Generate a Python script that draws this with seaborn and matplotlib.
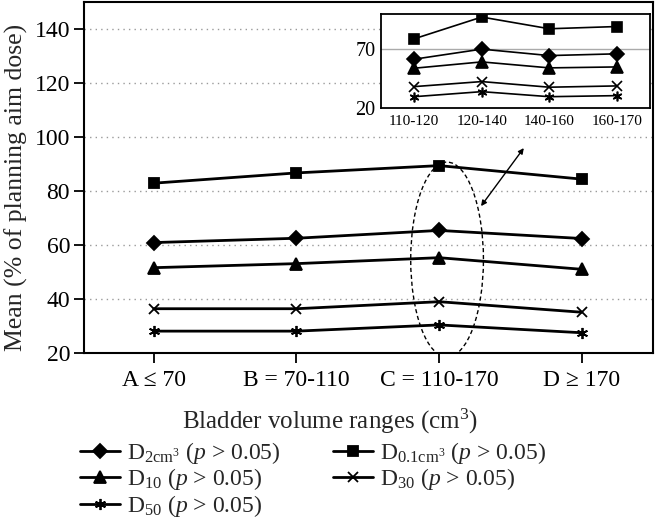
import matplotlib
matplotlib.use("Agg")
import matplotlib.pyplot as plt
from matplotlib.patches import Ellipse
from matplotlib.lines import Line2D
import seaborn as sns
import pandas as pd

# ---- data ----
categories = ["A ≤ 70", "B = 70-110", "C = 110-170", "D ≥ 170"]
d2cm3 = [60.9, 62.5, 65.4, 62.4]
d01cm3 = [82.9, 86.7, 89.4, 84.4]
d10 = [51.6, 53.1, 55.3, 51.0]
d30 = [36.4, 36.4, 39.0, 35.1]
d50 = [28.1, 28.1, 30.4, 27.5]

sub_categories = ["110-120", "120-140", "140-160", "160-170"]
sub_d2cm3 = [61.4, 70.0, 64.5, 66.0]
sub_d01cm3 = [78.8, 97.4, 87.4, 89.3]
sub_d10 = [53.7, 59.1, 54.0, 54.8]
sub_d30 = [38.0, 42.3, 37.5, 38.6]
sub_d50 = [29.4, 33.7, 29.4, 30.3]

main_yticks = [20, 40, 60, 80, 100, 120, 140]
inset_yticks = [20, 70]

labels = [r"D$_{\mathregular{2cm^3}}$ ($\mathit{p}$ > 0.05)",
          r"D$_{\mathregular{0.1cm^3}}$ ($\mathit{p}$ > 0.05)",
          r"D$_{\mathregular{10}}$ ($\mathit{p}$ > 0.05)",
          r"D$_{\mathregular{30}}$ ($\mathit{p}$ > 0.05)",
          r"D$_{\mathregular{50}}$ ($\mathit{p}$ > 0.05)"]

sns.set_style("white")
plt.rcParams["font.family"] = ["Liberation Serif", "DejaVu Serif"]
plt.rcParams["mathtext.fontset"] = "custom"
plt.rcParams["mathtext.rm"] = "Liberation Serif"
plt.rcParams["mathtext.it"] = "Liberation Serif:italic"
plt.rcParams["mathtext.bf"] = "Liberation Serif:bold"

fig = plt.figure(figsize=(6.55, 5.23), dpi=100)
ax = fig.add_axes([84/655, 1-353/523, (653-84)/655, (353-2)/523])

series_main = [d2cm3, d01cm3, d10, d30, d50]
series_sub = [sub_d2cm3, sub_d01cm3, sub_d10, sub_d30, sub_d50]
markers = ["D", "s", "^", "x", (6, 2, 0)]
msizes = [7, 7.5, 9, 7.5, 8]
msizes_sub = [7, 7.5, 8, 7, 7]

for vals, m, ms in zip(series_main, markers, msizes):
    df = pd.DataFrame({"cat": categories, "val": vals})
    sns.lineplot(data=df, x="cat", y="val", ax=ax, color="black", lw=2.0,
                 marker=m, markersize=ms, markeredgecolor="black",
                 markeredgewidth=1.3, sort=False, zorder=3)

ax.set_xlim(-0.49, 3.5)
ax.set_ylim(20, 150)
ax.set_yticks(main_yticks)
ax.set_xticks(range(len(categories)))
ax.set_xticklabels(categories)
ax.set_xlabel("")
ax.set_ylabel("")
ax.grid(False)
for y in main_yticks[1:]:
    ax.axhline(y, color="#9a9a9a", lw=1.0, ls=(0, (1, 3)), zorder=1)
for s in ax.spines.values():
    s.set_linewidth(1.5)
    s.set_color("black")
ax.tick_params(axis="both", direction="out", length=7, width=1.3,
               labelsize=17, colors="black", pad=3, bottom=True, left=True)
ax.tick_params(axis="x", pad=5)

# ellipse and arrow
ell = Ellipse((2.056, 54.6), 0.51, 72.2, fill=False, ec="black",
              lw=1.0, ls=(0, (3, 2)), zorder=4)
ax.add_patch(ell)
ax.annotate("", xy=(2.594, 95.9), xytext=(2.294, 74.4),
            arrowprops=dict(arrowstyle="<|-|>", color="black", lw=1.0,
                            mutation_scale=8, shrinkA=0, shrinkB=0))

# inset
axi = fig.add_axes([381/655, 1-107.7/523, (650-381)/655, (107.7-14)/523])
axi.set_facecolor("white")
for vals, m, ms in zip(series_sub, markers, msizes_sub):
    df = pd.DataFrame({"cat": sub_categories, "val": vals})
    sns.lineplot(data=df, x="cat", y="val", ax=axi, color="black", lw=1.2,
                 marker=m, markersize=ms, markeredgecolor="black",
                 markeredgewidth=1.2, sort=False, zorder=3)
axi.set_xlim(-0.49, 3.49)
axi.set_ylim(20, 100)
axi.set_yticks(inset_yticks)
axi.set_xticks(range(len(sub_categories)))
axi.set_xticklabels(sub_categories)
axi.set_xlabel("")
axi.set_ylabel("")
axi.axhline(70, color="#aaaaaa", lw=1.0, zorder=1)
for s in axi.spines.values():
    s.set_linewidth(1.3)
    s.set_color("black")
axi.tick_params(axis="x", length=0, labelsize=11, pad=5, colors="black")
axi.tick_params(axis="y", length=0, labelsize=14.5, pad=4, colors="black")

# labels
fig.text(330/655, 1-421/523, "Bladder volume ranges (cm$^3$)", ha="center",
         va="center", fontsize=18)
fig.text(16/655, 1-187/523, "Mean (% of planning aim dose)", ha="center",
         va="center", rotation=90, fontsize=18.5)

# legend
handles = [Line2D([0], [0], color="black", lw=2.0, marker=m, markersize=ms,
                  markeredgecolor="black", markeredgewidth=1.3)
           for m, ms in zip(markers, msizes)]
order = [0, 2, 4, 1, 3]
fig.legend([handles[i] for i in order], [labels[i] for i in order],
           ncol=2, loc="upper left", bbox_to_anchor=(80/655, 1-440/523),
           frameon=False, fontsize=17, handlelength=1.7, handletextpad=0.3,
           columnspacing=2.2, labelspacing=0.02, borderpad=0, borderaxespad=0)

fig.savefig("out.png", dpi=100, facecolor="white")
